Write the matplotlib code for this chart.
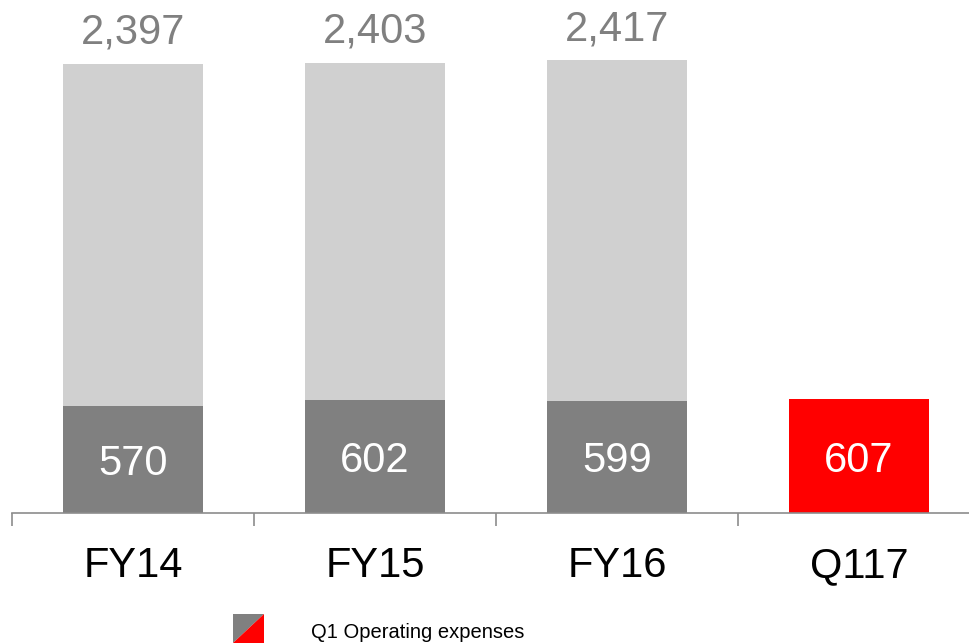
import matplotlib
matplotlib.use("Agg")
import matplotlib.pyplot as plt
from matplotlib.patches import Polygon

plt.rcParams["font.family"] = ["Liberation Sans", "DejaVu Sans"]

categories = ["FY14", "FY15", "FY16", "Q117"]
full_year = [2397, 2403, 2417, None]
q1_opex = [570, 602, 599, 607]
q1_colors = ["#808080", "#808080", "#808080", "#FF0000"]
legend_label = "Q1 Operating expenses"

LIGHT = "#D0D0D0"
DARK = "#808080"
RED = "#FF0000"

fig = plt.figure(figsize=(9.7, 6.44), dpi=100)
ax = fig.add_axes([12 / 970, 131 / 644, 968 / 970, 487 / 644])

x = list(range(len(categories)))
width = 0.575

# full-year totals behind, Q1 on top of them
for i, total in enumerate(full_year):
    if total is None:
        continue
    ax.bar(i, total, width=width, color=LIGHT, zorder=1)
    ax.annotate(f"{total:,}", (i, total), xytext=(0, 14.5), textcoords="offset points",
                ha="center", va="baseline", fontsize=30, color=DARK)

bars = ax.bar(x, q1_opex, width=width, color=q1_colors, zorder=2)
for i, v in enumerate(q1_opex):
    ax.text(i, v / 2, f"{v}", ha="center", va="center_baseline", fontsize=30,
            color="white", zorder=3)

ax.set_xlim(-0.5, 3.5)
ax.set_ylim(0, 2600)

for s in ["top", "left", "right"]:
    ax.spines[s].set_visible(False)
ax.spines["bottom"].set_color("#8C8C8C")
ax.spines["bottom"].set_linewidth(1.2)
ax.set_yticks([])

# ticks sit on the boundaries between categories
ax.set_xticks([-0.5, 0.5, 1.5, 2.5, 3.5])
ax.set_xticklabels([])
ax.tick_params(axis="x", which="major", direction="out", length=9, width=1.2, color="#8C8C8C")

# category names, all on one baseline below the axis
for i, name in enumerate(categories):
    ax.annotate(name, (i, 0), xycoords=("data", "axes fraction"), xytext=(0, -46),
                textcoords="offset points", ha="center", va="baseline",
                fontsize=30, color="black", annotation_clip=False)

# legend swatch: grey / red split diagonally
x0, x1 = 233 / 970, 264 / 970
y0, y1 = 1 / 644, 30 / 644
fig.patches.append(Polygon([(x0, y0), (x0, y1), (x1, y1)], closed=True,
                           transform=fig.transFigure, color=DARK, lw=0))
fig.patches.append(Polygon([(x0, y0), (x1, y1), (x1, y0)], closed=True,
                           transform=fig.transFigure, color=RED, lw=0))
fig.text(311 / 970, 11 / 644, legend_label, ha="left", va="center", fontsize=14.5, color="black")

fig.savefig("out.png", dpi=100)
